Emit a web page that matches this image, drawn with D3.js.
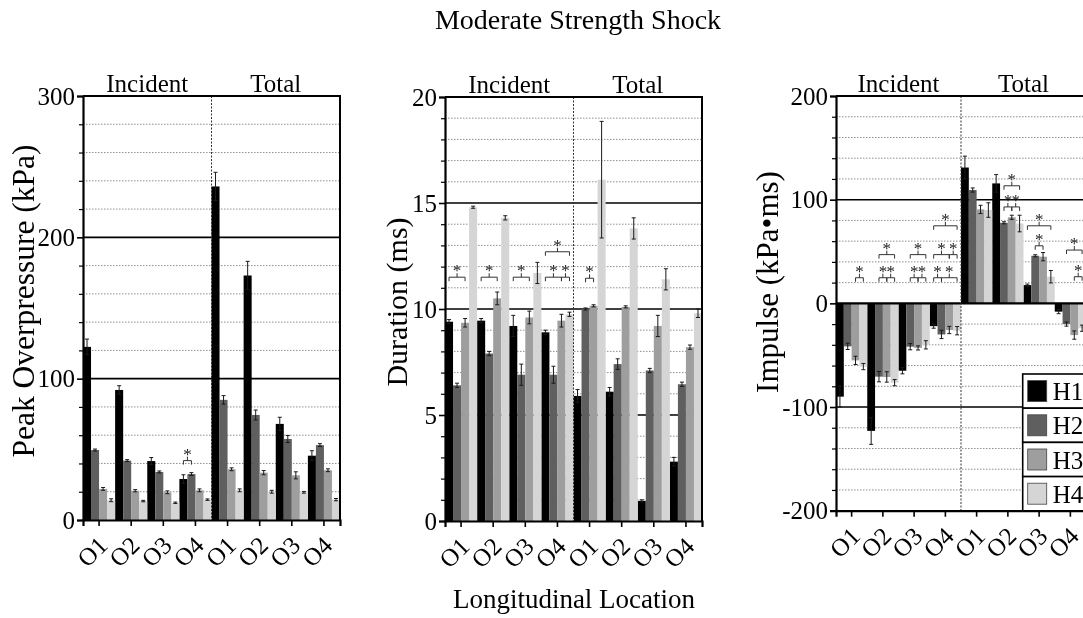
<!DOCTYPE html>
<html>
<head>
<meta charset="utf-8">
<script src="https://cdn.jsdelivr.net/npm/d3@7"></script>
<style>
  html, body { margin: 0; padding: 0; background: #fff; overflow: hidden; }
  svg { display: block; font-family: "Liberation Serif", "Times New Roman", serif; will-change: transform; }
</style>
</head>
<body>
<svg id="chart" width="1083" height="618"></svg>
<script>
// ---- categories ----
const locations = ["O1", "O2", "O3", "O4", "O1", "O2", "O3", "O4"];
const sections = ["Incident", "Total"];
const sensors = ["H1", "H2", "H3", "H4"];
const sensorColors = ["#000000", "#5f5f5f", "#9e9e9e", "#d5d5d5"];

// ---- peak overpressure (kPa), one array per sensor across the 8 location groups ----
const pressureMean = [
  [122.5, 92, 41.7, 29, 236, 173, 68, 45.5],
  [49.5, 42, 34, 32.5, 85, 74.3, 57.3, 53],
  [22, 20.7, 19.6, 21, 35.9, 33.5, 31.6, 35.2],
  [14, 13.4, 12.2, 14.4, 21, 20, 19.6, 14.4]
];
const pressureErr = [
  [5.5, 3, 2.5, 3, 10, 10, 4.7, 3.5],
  [0.7, 0.7, 0.7, 1, 3, 3.5, 2.5, 1],
  [1, 0.8, 1, 1, 1, 1.5, 2.5, 1],
  [1, 0.5, 0.5, 0.5, 1, 1, 0.6, 0.8]
];
const pressureTicks = [0, 100, 200, 300];

// ---- positive phase duration (ms) ----
const durationMean = [
  [9.4, 9.45, 9.2, 8.9, 5.9, 6.1, 0.95, 2.8],
  [6.4, 7.9, 6.9, 6.9, 10.0, 7.4, 7.1, 6.45],
  [9.35, 10.5, 9.6, 9.45, 10.15, 10.1, 9.2, 8.2],
  [14.8, 14.3, 11.7, 9.75, 16.1, 13.8, 11.4, 9.8]
];
const durationErr = [
  [0.1, 0.1, 0.5, 0.1, 0.3, 0.2, 0.05, 0.2],
  [0.1, 0.1, 0.5, 0.4, 0.05, 0.25, 0.1, 0.1],
  [0.2, 0.3, 0.3, 0.3, 0.05, 0.05, 0.5, 0.1],
  [0.05, 0.1, 0.5, 0.1, 2.75, 0.5, 0.5, 0.2]
];
const durationTicks = [0, 5, 10, 15, 20];

// ---- impulse (kPa·ms) ----
const impulseMean = [
  [-90, -123, -65, -22, 131, 115.7, 17.6, -8],
  [-41.5, -70.7, -41.8, -30, 109.3, 77.7, 45.9, -20],
  [-55, -71, -43, -25.7, 90.6, 83, 45, -30.6],
  [-61, -76.5, -40, -26.4, 90, 77, 25.7, -24]
];
const impulseErr = [
  [10, 13, 3, 2, 11, 8.5, 1, 2],
  [3, 5, 3, 4, 2, 1, 1, 2],
  [4, 5, 2, 3.5, 4, 2, 4, 4],
  [3, 3, 4, 4, 7, 8, 6, 3]
];
const impulseTicks = [-200, -100, 0, 100, 200];

// ---- significance brackets: [group, from sensor, to sensor, level] ----
const pressureSig = [[3, 0, 1, 42]];
const durationSig = [
  [0, 0, 2, 11.5], [1, 0, 2, 11.5], [2, 0, 2, 11.5],
  [3, 0, 2, 11.5], [3, 2, 3, 11.5], [3, 0, 3, 12.7],
  [4, 1, 2, 11.45]
];
const impulseSig = [
  [0, 2, 3, 24.7],
  [1, 1, 2, 24.7], [1, 2, 3, 24.7], [1, 1, 3, 47],
  [2, 1, 2, 24.7], [2, 2, 3, 24.7], [2, 1, 3, 47],
  [3, 0, 1, 24.7], [3, 1, 3, 24.7], [3, 0, 2, 47], [3, 2, 3, 47], [3, 0, 3, 74.8],
  [5, 1, 2, 93], [5, 2, 3, 93], [5, 1, 3, 113.4],
  [6, 1, 2, 55.5], [6, 0, 3, 74.8],
  [7, 2, 3, 25.7], [7, 1, 3, 51.4]
];

const svg = d3.select("#chart");
const FONT = "'Liberation Serif', 'Times New Roman', serif";

function drawPanel(p) {
  const g = svg.append("g");
  const x = d3.scaleBand().domain(d3.range(locations.length)).range([p.left, p.right]).padding(0);
  const xs = d3.scaleBand().domain(d3.range(sensors.length)).range([0, x.bandwidth()]).padding(0);
  const y = d3.scaleLinear().domain(p.domain).range([p.bottom, p.top]);
  const eq = (a, b) => Math.abs(a - b) < 1e-9;

  // dotted minor gridlines
  const minors = d3.range(p.domain[0], p.domain[1] + 1e-9, p.minorStep)
    .filter(v => !p.ticks.some(t => eq(t, v)));
  g.append("g").selectAll("line").data(minors).join("line")
    .attr("x1", p.left).attr("x2", p.right)
    .attr("y1", d => y(d)).attr("y2", d => y(d))
    .attr("stroke", "#8f8f8f").attr("stroke-width", 1)
    .attr("stroke-dasharray", "1.5,1.5");

  // solid major gridlines
  const solids = p.ticks.filter(v => v > p.domain[0] && v < p.domain[1] && !eq(v, 0));
  g.append("g").selectAll("line").data(solids).join("line")
    .attr("x1", p.left).attr("x2", p.right)
    .attr("y1", d => y(d)).attr("y2", d => y(d))
    .attr("stroke", "#000").attr("stroke-width", 1.6);

  // bars
  const flat = [];
  p.means.forEach((row, s) => row.forEach((v, i) => flat.push({ s, i, v, e: p.errs[s][i] })));
  g.append("g").selectAll("rect").data(flat).join("rect")
    .attr("x", d => x(d.i) + xs(d.s))
    .attr("width", xs.bandwidth())
    .attr("y", d => y(Math.max(0, d.v)))
    .attr("height", d => Math.abs(y(d.v) - y(0)))
    .attr("fill", d => sensorColors[d.s]);

  // error bars
  const eb = g.append("g").attr("stroke", "#1a1a1a").attr("stroke-width", 1);
  const cx = d => x(d.i) + xs(d.s) + xs.bandwidth() / 2;
  eb.selectAll("line.v").data(flat).join("line").attr("class", "v")
    .attr("x1", cx).attr("x2", cx)
    .attr("y1", d => y(d.v - d.e)).attr("y2", d => y(d.v + d.e));
  eb.selectAll("line.t").data(flat).join("line").attr("class", "t")
    .attr("x1", d => cx(d) - 2).attr("x2", d => cx(d) + 2)
    .attr("y1", d => y(d.v + d.e)).attr("y2", d => y(d.v + d.e));
  eb.selectAll("line.b").data(flat).join("line").attr("class", "b")
    .attr("x1", d => cx(d) - 2).attr("x2", d => cx(d) + 2)
    .attr("y1", d => y(d.v - d.e)).attr("y2", d => y(d.v - d.e));

  // zero line when the range spans negatives
  if (p.domain[0] < 0) {
    g.append("line").attr("x1", p.left).attr("x2", p.right)
      .attr("y1", y(0)).attr("y2", y(0))
      .attr("stroke", "#000").attr("stroke-width", 2.2);
  }

  // dotted divider between Incident and Total
  const mid = x(4);
  g.append("line").attr("x1", mid).attr("x2", mid)
    .attr("y1", p.top).attr("y2", p.bottom)
    .attr("stroke", "#333").attr("stroke-width", 1).attr("stroke-dasharray", "2,1.5");

  // top and right frame
  g.append("path")
    .attr("d", `M${p.left},${p.top}H${p.right}V${p.bottom}`)
    .attr("fill", "none").attr("stroke", "#000").attr("stroke-width", 2);

  // significance brackets
  const sig = g.append("g");
  p.sig.forEach(([gi, a, b, lvl]) => {
    const xa = x(gi) + xs(a) + xs.bandwidth() / 2;
    const xb = x(gi) + xs(b) + xs.bandwidth() / 2;
    const yy = y(lvl);
    const xm = (xa + xb) / 2;
    sig.append("path")
      .attr("d", `M${xa},${yy + 4}V${yy}H${xb}V${yy + 4}M${xm},${yy}V${yy - 4}`)
      .attr("fill", "none").attr("stroke", "#333").attr("stroke-width", 1);
    sig.append("text").attr("x", xm).attr("y", yy - 1)
      .attr("text-anchor", "middle").attr("font-size", 17).attr("fill", "#222")
      .attr("font-family", FONT).text("*");
  });

  // left axis: labelled major ticks plus minor ticks
  const yAxis = g.append("g").attr("transform", `translate(${p.left},0)`)
    .call(d3.axisLeft(y).tickValues(p.ticks).tickSize(6).tickPadding(2).tickFormat(d => String(d)));
  yAxis.select(".domain").attr("stroke-width", 2.2);
  yAxis.selectAll(".tick line").attr("stroke-width", 1.6);
  yAxis.selectAll("text").attr("font-family", FONT).attr("font-size", 25).attr("fill", "#000");
  g.append("g").attr("transform", `translate(${p.left},0)`)
    .call(d3.axisLeft(y).tickValues(minors).tickSize(4).tickFormat(""))
    .call(a => a.select(".domain").remove())
    .selectAll("line").attr("stroke-width", 1.2);

  // bottom axis with rotated location labels
  const xAxis = g.append("g").attr("transform", `translate(0,${p.bottom})`)
    .call(d3.axisBottom(x).tickSize(6).tickFormat(i => locations[i]));
  xAxis.select(".domain").attr("stroke-width", 2.2);
  xAxis.selectAll(".tick line").attr("stroke-width", 1.6);
  xAxis.selectAll("text")
    .attr("font-family", FONT).attr("font-size", 25).attr("fill", "#000")
    .attr("x", 0).attr("y", 0).attr("dy", null)
    .attr("text-anchor", "end")
    .attr("transform", "translate(10,27) rotate(-45)");

  // section headers
  g.selectAll("text.sec").data(sections).join("text").attr("class", "sec")
    .attr("x", (d, k) => (x(k * 4) + x(k * 4 + 3) + x.bandwidth()) / 2)
    .attr("y", p.top - 4)
    .attr("text-anchor", "middle").attr("font-size", 25).attr("font-family", FONT)
    .text(d => d);

  // y-axis title
  g.append("text")
    .attr("transform", `translate(${p.titleX},${p.titleY}) rotate(-90)`)
    .attr("text-anchor", "middle").attr("font-size", p.titleSize).attr("font-family", FONT)
    .text(p.yLabel);

  return { x, y };
}

drawPanel({
  left: 83, right: 340, top: 96, bottom: 520,
  domain: [0, 300], ticks: pressureTicks, minorStep: 20,
  means: pressureMean, errs: pressureErr, sig: pressureSig,
  yLabel: "Peak Overpressure (kPa)", titleX: 34, titleY: 301, titleSize: 31.5
});

drawPanel({
  left: 445, right: 702, top: 97, bottom: 521,
  domain: [0, 20], ticks: durationTicks, minorStep: 1,
  means: durationMean, errs: durationErr, sig: durationSig,
  yLabel: "Duration (ms)", titleX: 407, titleY: 302, titleSize: 30
});

drawPanel({
  left: 836, right: 1086, top: 96, bottom: 510.7,
  domain: [-200, 200], ticks: impulseTicks, minorStep: 20,
  means: impulseMean, errs: impulseErr, sig: impulseSig,
  yLabel: "Impulse (kPa\u2022ms)", titleX: 778, titleY: 282, titleSize: 31
});

// legend inside the impulse panel
const legend = svg.append("g");
const legTop = 374, legRow = 34.2, legLeft = 1022.7;
sensors.forEach((s, k) => {
  const yy = legTop + k * legRow;
  legend.append("rect").attr("x", legLeft).attr("y", yy)
    .attr("width", 80).attr("height", legRow)
    .attr("fill", "#fff").attr("stroke", "#000").attr("stroke-width", 1.6);
  legend.append("rect").attr("x", legLeft + 5).attr("y", yy + legRow / 2 - 10.5)
    .attr("width", 19).attr("height", 21)
    .attr("fill", sensorColors[k]).attr("stroke", "#444").attr("stroke-width", 0.8);
  legend.append("text").attr("x", legLeft + 30).attr("y", yy + legRow / 2 + 9)
    .attr("font-size", 25).attr("font-family", FONT).text(s);
});

// overall title and shared x-axis title
svg.append("text").attr("x", 578).attr("y", 29)
  .attr("text-anchor", "middle").attr("font-size", 28).attr("font-family", FONT)
  .text("Moderate Strength Shock");
svg.append("text").attr("x", 574).attr("y", 608)
  .attr("text-anchor", "middle").attr("font-size", 27).attr("font-family", FONT)
  .text("Longitudinal Location");
</script>
</body>
</html>
